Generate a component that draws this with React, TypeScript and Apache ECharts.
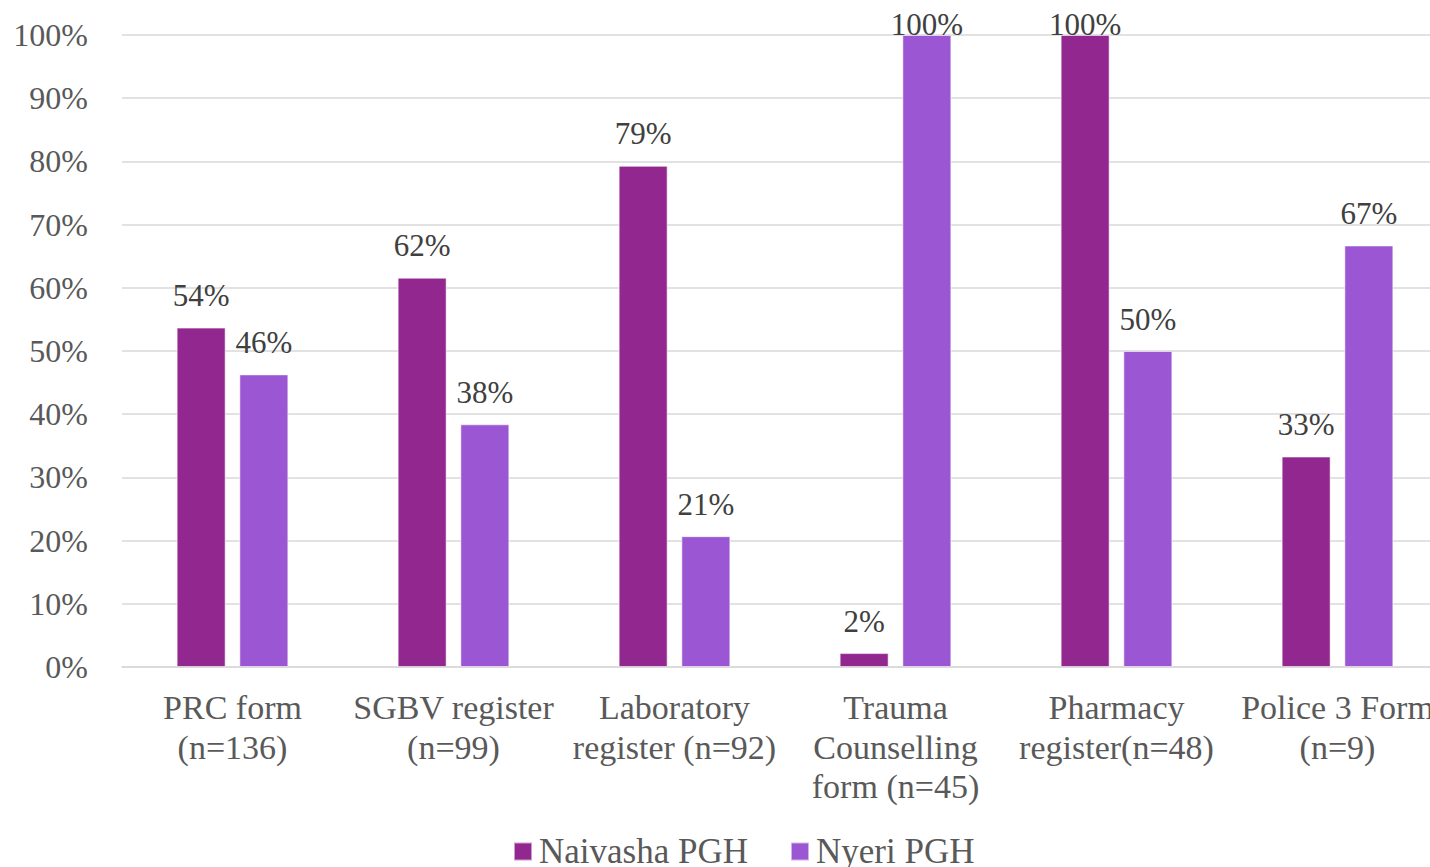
import React, { useEffect, useRef } from "react";
import * as echarts from "echarts";

const categories = [
  "PRC form\n(n=136)",
  "SGBV register\n(n=99)",
  "Laboratory\nregister (n=92)",
  "Trauma\nCounselling\nform (n=45)",
  "Pharmacy\nregister(n=48)",
  "Police 3 Form\n(n=9)",
];
const seriesNames = ["Naivasha PGH", "Nyeri PGH"];
const naivasha = [53.7, 61.6, 79.3, 2.2, 100, 33.3];
const nyeri = [46.3, 38.4, 20.7, 100, 50, 66.7];
const yTicks = { min: 0, max: 100, interval: 10 };
const colors = ["#92278F", "#9B57D3"];

const FONT = "'Liberation Serif', 'DejaVu Serif', serif";

export default function App() {
  const ref = useRef<HTMLDivElement>(null);
  useEffect(() => {
    if (!ref.current) return;
    const chart = echarts.init(ref.current, undefined, { renderer: "svg" });
    const mkData = (arr: number[]) =>
      arr.map((v) => (v >= 99.5 ? { value: v, label: { distance: -4 } } : v));
    const mkSeries = (name: string, arr: number[], color: string) => ({
      name,
      type: "bar",
      data: mkData(arr),
      barWidth: 49,
      barGap: "28%",
      itemStyle: { color, borderColor: "rgba(255,255,255,0.55)", borderWidth: 1 },
      label: {
        show: true,
        position: "top",
        distance: 17,
        formatter: (p: any) => Math.round(p.value) + "%",
        color: "#404040",
        fontFamily: FONT,
        fontSize: 31,
        lineHeight: 30,
      },
    });
    chart.setOption({
      animation: false,
      color: colors,
      grid: { left: 122, top: 35, right: 0, bottom: 200, containLabel: false },
      legend: {
        data: seriesNames,
        top: 834,
        left: 513,
        padding: 0,
        itemWidth: 18,
        itemHeight: 18,
        itemGap: 42,
        icon: "rect",
        textStyle: {
          color: "#595959",
          fontFamily: FONT,
          fontSize: 35,
          lineHeight: 32,
          padding: [0, 0, 0, 2],
        },
      },
      xAxis: {
        type: "category",
        data: categories,
        axisTick: { show: false },
        axisLine: { lineStyle: { color: "#d9d9d9", width: 1.5 } },
        axisLabel: {
          interval: 0,
          margin: 21,
          color: "#595959",
          fontFamily: FONT,
          fontSize: 34,
          lineHeight: 39.5,
        },
      },
      yAxis: {
        type: "value",
        min: yTicks.min,
        max: yTicks.max,
        interval: yTicks.interval,
        axisLine: { show: false },
        axisTick: { show: false },
        splitLine: { lineStyle: { color: "#d9d9d9", width: 1.5 } },
        axisLabel: {
          formatter: "{value}%",
          margin: 34,
          color: "#595959",
          fontFamily: FONT,
          fontSize: 32,
        },
      },
      series: [
        mkSeries(seriesNames[0], naivasha, colors[0]),
        mkSeries(seriesNames[1], nyeri, colors[1]),
      ],
    });
    return () => chart.dispose();
  }, []);
  return (
    <div
      style={{ position: "fixed", left: 0, top: 0, width: 1430, height: 867, overflow: "hidden", background: "#fff" }}
    >
      <div ref={ref} style={{ width: 1448, height: 867 }} />
    </div>
  );
}
